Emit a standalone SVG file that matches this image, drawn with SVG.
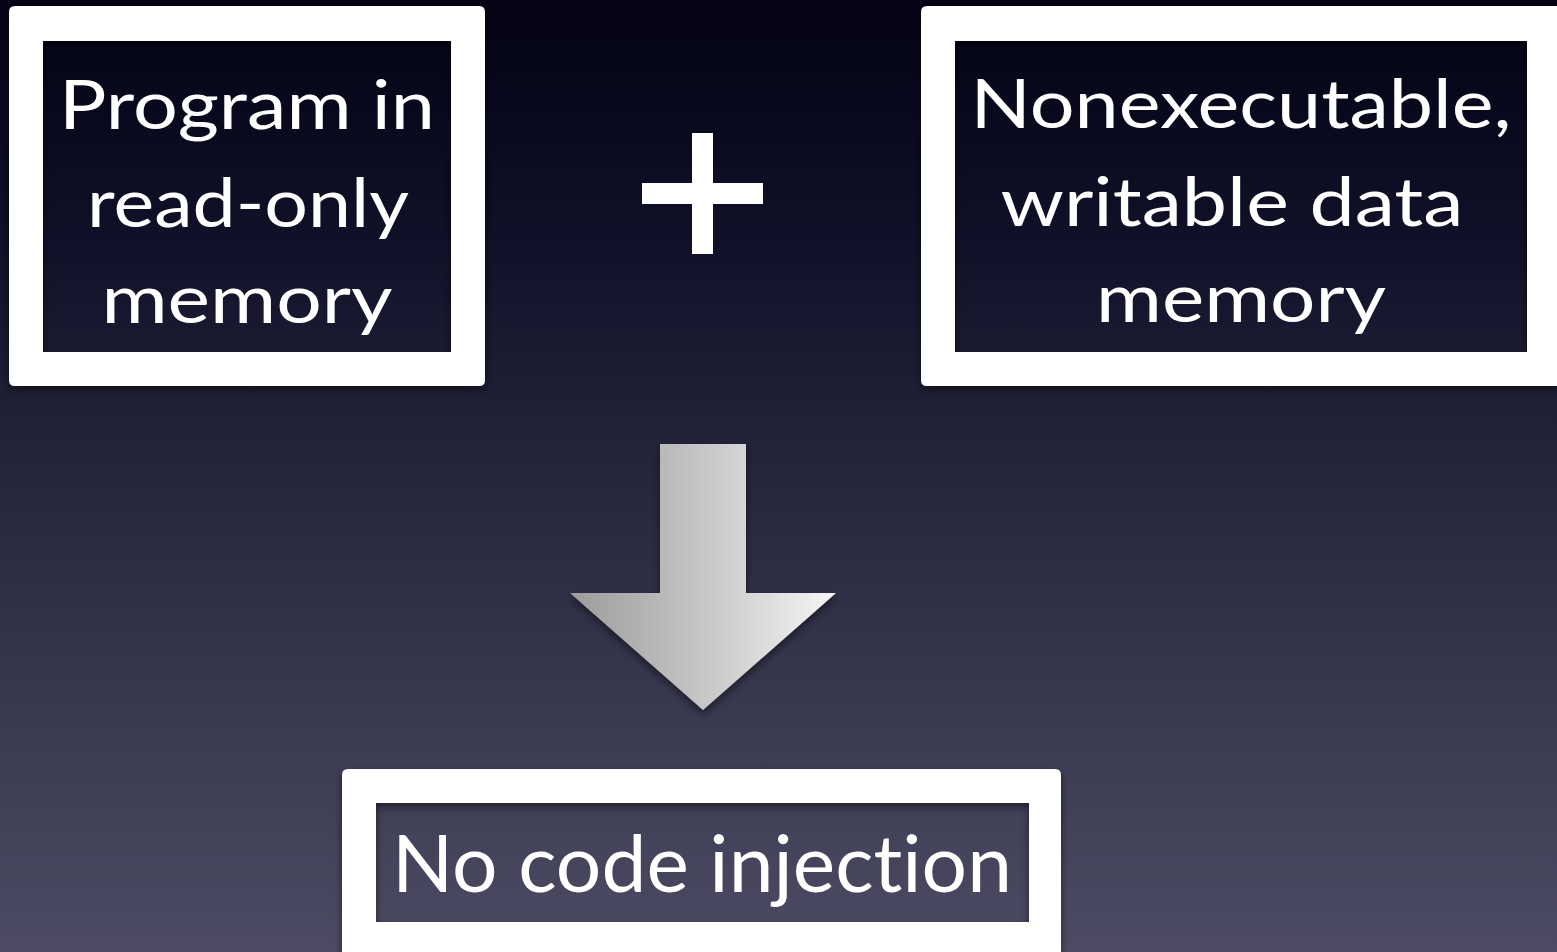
<svg xmlns="http://www.w3.org/2000/svg" width="1557" height="952" viewBox="0 0 1557 952">
  <defs>
    <linearGradient id="bg" x1="0" y1="0" x2="0" y2="1">
      <stop offset="0" stop-color="#030314"/>
      <stop offset="0.25" stop-color="#101028"/>
      <stop offset="0.5" stop-color="#25263c"/>
      <stop offset="0.75" stop-color="#393950"/>
      <stop offset="1" stop-color="#4c4b63"/>
    </linearGradient>
    <linearGradient id="arrowFill" gradientUnits="userSpaceOnUse" x1="570" y1="0" x2="836" y2="0">
      <stop offset="0" stop-color="#9c9c9c"/>
      <stop offset="0.5" stop-color="#c6c6c6"/>
      <stop offset="1" stop-color="#f6f6f6"/>
    </linearGradient>
    <filter id="shadow" x="-10%" y="-10%" width="120%" height="125%">
      <feGaussianBlur in="SourceAlpha" stdDeviation="4"/>
      <feOffset dx="0" dy="4" result="b"/>
      <feComponentTransfer><feFuncA type="linear" slope="0.5"/></feComponentTransfer>
      <feMerge><feMergeNode/><feMergeNode in="SourceGraphic"/></feMerge>
    </filter>
  </defs>
  <style>
    .frame { fill: #ffffff; fill-rule: evenodd; filter: url(#shadow); }
    .label { fill: #ffffff; font-family: Lato, "Open Sans", "Liberation Sans", sans-serif; text-anchor: middle; font-variant-ligatures: none; font-feature-settings: "liga" 0, "clig" 0; }
    .top { font-size: 68px; }
    .bottom { font-size: 80px; }
  </style>

  <rect width="1557" height="952" fill="url(#bg)"/>

  <!-- left source: program memory -->
  <g id="node-program">
    <path class="frame" d="M15 6 H479 Q485 6 485 12 V380 Q485 386 479 386 H15 Q9 386 9 380 V12 Q9 6 15 6 Z M43 41 V352 H451 V41 Z"/>
    <text class="label top" x="247" y="129" textLength="376" lengthAdjust="spacingAndGlyphs">Program in</text>
    <text class="label top" x="248" y="227" textLength="322" lengthAdjust="spacingAndGlyphs">read-only</text>
    <text class="label top" x="247" y="323" textLength="291" lengthAdjust="spacingAndGlyphs">memory</text>
  </g>

  <!-- plus sign between the sources -->
  <g id="plus" fill="#ffffff">
    <rect x="692" y="133" width="21" height="121"/>
    <rect x="642" y="183" width="121" height="21"/>
  </g>

  <!-- right source: data memory -->
  <g id="node-data">
    <path class="frame" d="M927 6 H1563 V386 H927 Q921 386 921 380 V12 Q921 6 927 6 Z M955 41 V352 H1527 V41 Z"/>
    <text class="label top" x="1241" y="128" textLength="541" lengthAdjust="spacingAndGlyphs">Nonexecutable,</text>
    <text class="label top" x="1232" y="226" textLength="463" lengthAdjust="spacingAndGlyphs">writable data</text>
    <text class="label top" x="1241" y="322" textLength="290" lengthAdjust="spacingAndGlyphs">memory</text>
  </g>

  <!-- result arrow -->
  <g id="connectors">
    <path d="M660 444 H746 V593 H836 L703 710 L570 593 H660 Z" fill="url(#arrowFill)" filter="url(#shadow)"/>
  </g>

  <!-- outcome -->
  <g id="node-result">
    <path class="frame" d="M348 769 H1055 Q1061 769 1061 775 V960 H342 V775 Q342 769 348 769 Z M376 803 V922 H1029 V803 Z"/>
    <text class="label bottom" x="702" y="892" textLength="620" lengthAdjust="spacingAndGlyphs">No code injection</text>
  </g>
</svg>
